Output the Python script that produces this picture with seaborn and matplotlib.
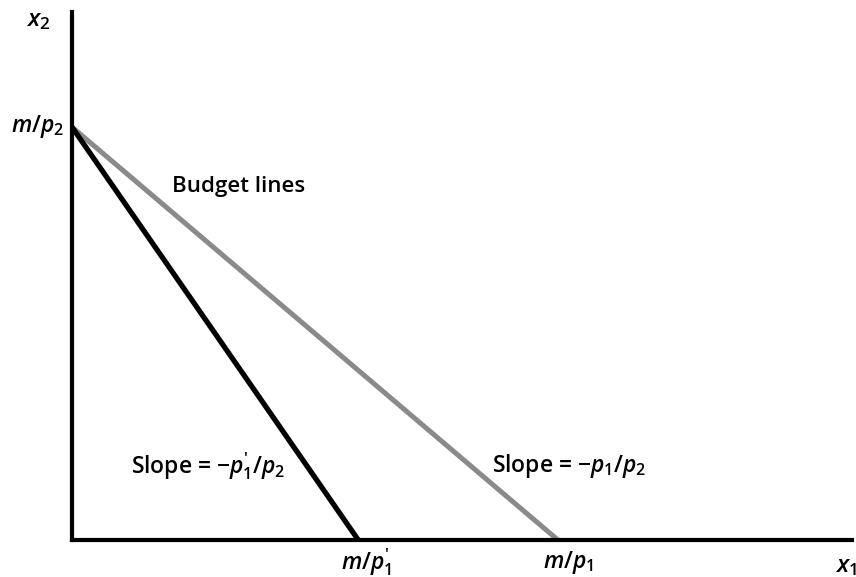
"""Budget line pivot: price of good 1 rises, budget line gets steeper."""

import matplotlib
matplotlib.use("Agg")
import matplotlib.pyplot as plt
import pandas as pd
import seaborn as sns

# intercepts (axis units, 0..10 on each axis)
m_over_p2 = 7.82
m_over_p1 = 6.23
m_over_p1_new = 3.67

line_names = ["old", "old", "new", "new"]
x_vals = [0.0, m_over_p1, 0.0, m_over_p1_new]
y_vals = [m_over_p2, 0.0, m_over_p2, 0.0]

df = pd.DataFrame({"line": line_names, "x1": x_vals, "x2": y_vals})

sns.set_style("white")
plt.rcParams["font.family"] = ["Open Sans", "DejaVu Sans"]
plt.rcParams["mathtext.fontset"] = "custom"
plt.rcParams["mathtext.rm"] = "Open Sans:weight=semibold"
plt.rcParams["mathtext.it"] = "Open Sans:style=italic:weight=semibold"
plt.rcParams["text.color"] = "black"

W, H = 856, 577
fig = plt.figure(figsize=(W / 100, H / 100), dpi=100)
ax = fig.add_axes([72 / W, (H - 540) / H, (852 - 72) / W, (540 - 12) / H])

sns.lineplot(
    data=df, x="x1", y="x2", hue="line", hue_order=["old", "new"],
    palette={"old": "#8a8a8a", "new": "black"}, ax=ax, legend=False,
    sort=False, estimator=None,
)
ax.lines[0].set_linewidth(3.6)
ax.lines[1].set_linewidth(3.8)
for ln in ax.lines:
    ln.set_solid_capstyle("butt")

ax.set_xlim(0, 10)
ax.set_ylim(0, 10)
ax.set_xticks([])
ax.set_yticks([])
ax.set_xlabel("")
ax.set_ylabel("")
for side in ["top", "right"]:
    ax.spines[side].set_visible(False)
for side in ["left", "bottom"]:
    ax.spines[side].set_linewidth(3)
    ax.spines[side].set_color("black")


def px(x, y):
    return x / W, 1 - y / H


fs = 16.5
wt = "semibold"
fig.text(*px(38, 20), "$x_2$", fontsize=fs + 1, ha="center", va="center")
fig.text(*px(64, 127), "$m/p_2$", fontsize=fs, ha="right", va="center")
fig.text(*px(172, 187), "Budget lines", fontsize=fs - 0.5, weight=wt, ha="left", va="center")
fig.text(*px(131, 466), "Slope = $-p_1'/p_2$", fontsize=fs, weight=wt, ha="left", va="center")
fig.text(*px(492, 466), "Slope = $-p_1/p_2$", fontsize=fs, weight=wt, ha="left", va="center")
fig.text(*px(366, 562), "$m/p_1'$", fontsize=fs, ha="center", va="center")
fig.text(*px(568, 562), "$m/p_1$", fontsize=fs, ha="center", va="center")
fig.text(*px(846, 566), "$x_1$", fontsize=fs + 1, ha="center", va="center")

fig.savefig("out.png", dpi=100)
